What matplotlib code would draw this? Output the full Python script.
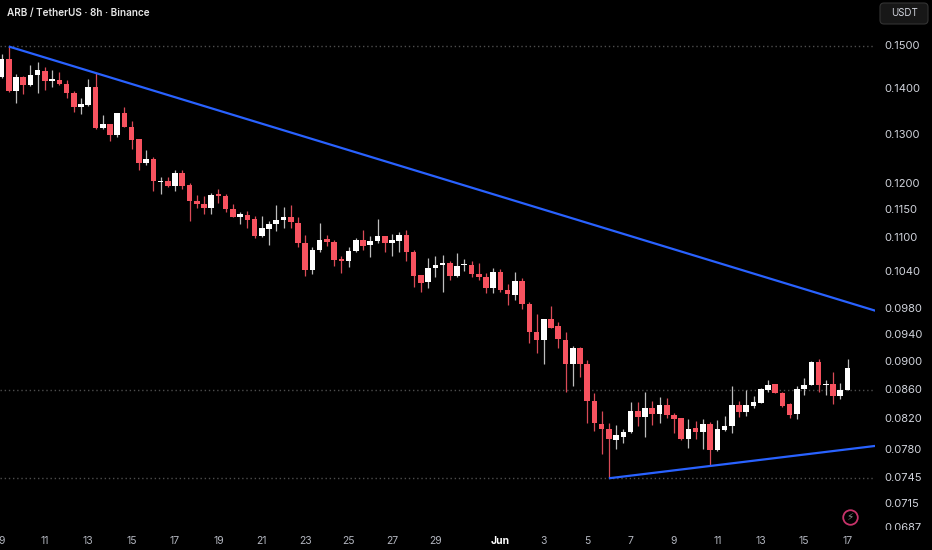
"""ARB / TetherUS 8h candles with two trend lines, dark TradingView look."""
import numpy as np, pandas as pd, matplotlib
matplotlib.use("Agg")
import matplotlib.pyplot as plt
from matplotlib.transforms import blended_transform_factory, IdentityTransform
from matplotlib.patches import FancyBboxPatch
from matplotlib.lines import Line2D

plt.rcParams["font.family"] = ["Inter", "DejaVu Sans"]
BG, TXT, AXT = "#000000", "#d1d4dc", "#b2b5be"
UP, DOWN, UPW, DOWNW = "#ffffff", "#f7525f", "#bdbdbd", "#d94a57"
BLUE, DOT = "#2962ff", "#4d4d4d"

times = pd.date_range("2025-05-09 00:00", periods=118, freq="8h")
opens = [0.1428, 0.1470, 0.1396, 0.1428, 0.1409, 0.1432, 0.1441, 0.1418, 0.1421, 0.1412,
         0.1392, 0.1360, 0.1364, 0.1405, 0.1314, 0.1323, 0.1300, 0.1347, 0.1316, 0.1291,
         0.1242, 0.1250, 0.1204, 0.1206, 0.1196, 0.1222, 0.1198, 0.1168, 0.1162, 0.1155,
         0.1181, 0.1177, 0.1153, 0.1138, 0.1142, 0.1134, 0.1103, 0.1116, 0.1125, 0.1133,
         0.1137, 0.1127, 0.1091, 0.1044, 0.1079, 0.1098, 0.1093, 0.1063, 0.1060, 0.1077,
         0.1096, 0.1087, 0.1095, 0.1103, 0.1091, 0.1095, 0.1105, 0.1075, 0.1036, 0.1024,
         0.1048, 0.1053, 0.1056, 0.1034, 0.1053, 0.1053, 0.1038, 0.1032, 0.1014, 0.1041,
         0.1011, 0.1003, 0.1026, 0.0988, 0.0945, 0.0932, 0.0965, 0.0954, 0.0932, 0.0896,
         0.0920, 0.0897, 0.0845, 0.0814, 0.0807, 0.0793, 0.0797, 0.0803, 0.0831, 0.0823,
         0.0835, 0.0827, 0.0839, 0.0826, 0.0822, 0.0794, 0.0808, 0.0803, 0.0814, 0.0780,
         0.0806, 0.0811, 0.0839, 0.0830, 0.0837, 0.0842, 0.0860, 0.0868, 0.0856, 0.0840,
         0.0827, 0.0861, 0.0867, 0.0900, 0.0867, 0.0868, 0.0851, 0.0860]
highs = [0.1482, 0.1500, 0.1435, 0.1430, 0.1456, 0.1463, 0.1451, 0.1444, 0.1439, 0.1421,
         0.1396, 0.1380, 0.1423, 0.1437, 0.1342, 0.1323, 0.1347, 0.1360, 0.1329, 0.1291,
         0.1268, 0.1254, 0.1214, 0.1214, 0.1228, 0.1228, 0.1202, 0.1179, 0.1177, 0.1183,
         0.1190, 0.1181, 0.1162, 0.1147, 0.1149, 0.1140, 0.1140, 0.1131, 0.1160, 0.1157,
         0.1160, 0.1138, 0.1105, 0.1084, 0.1127, 0.1105, 0.1096, 0.1068, 0.1084, 0.1100,
         0.1114, 0.1103, 0.1134, 0.1103, 0.1107, 0.1111, 0.1114, 0.1079, 0.1036, 0.1065,
         0.1068, 0.1070, 0.1060, 0.1073, 0.1063, 0.1060, 0.1056, 0.1039, 0.1048, 0.1046,
         0.1021, 0.1041, 0.1031, 0.0991, 0.0972, 0.0965, 0.0985, 0.0959, 0.0945, 0.0923,
         0.0922, 0.0903, 0.0856, 0.0831, 0.0815, 0.0812, 0.0807, 0.0843, 0.0843, 0.0857,
         0.0845, 0.0850, 0.0848, 0.0828, 0.0822, 0.0820, 0.0818, 0.0820, 0.0816, 0.0819,
         0.0824, 0.0865, 0.0845, 0.0859, 0.0851, 0.0863, 0.0874, 0.0868, 0.0857, 0.0842,
         0.0865, 0.0877, 0.0901, 0.0904, 0.0873, 0.0885, 0.0870, 0.0904]
lows = [0.1425, 0.1394, 0.1369, 0.1389, 0.1407, 0.1392, 0.1398, 0.1405, 0.1409, 0.1380,
        0.1349, 0.1345, 0.1362, 0.1312, 0.1312, 0.1287, 0.1295, 0.1316, 0.1270, 0.1228,
        0.1238, 0.1187, 0.1181, 0.1194, 0.1187, 0.1190, 0.1131, 0.1155, 0.1143, 0.1143,
        0.1164, 0.1147, 0.1137, 0.1125, 0.1118, 0.1100, 0.1102, 0.1087, 0.1112, 0.1118,
        0.1118, 0.1084, 0.1034, 0.1038, 0.1075, 0.1086, 0.1051, 0.1039, 0.1049, 0.1075,
        0.1079, 0.1066, 0.1091, 0.1075, 0.1068, 0.1075, 0.1060, 0.1016, 0.1008, 0.1014,
        0.1032, 0.1008, 0.1028, 0.1032, 0.1043, 0.1032, 0.1028, 0.1006, 0.1006, 0.1008,
        0.0987, 0.0995, 0.0980, 0.0928, 0.0913, 0.0897, 0.0951, 0.0920, 0.0857, 0.0865,
        0.0878, 0.0815, 0.0804, 0.0775, 0.0745, 0.0781, 0.0789, 0.0802, 0.0811, 0.0797,
        0.0812, 0.0815, 0.0822, 0.0802, 0.0793, 0.0783, 0.0794, 0.0781, 0.0760, 0.0779,
        0.0804, 0.0802, 0.0823, 0.0824, 0.0835, 0.0842, 0.0857, 0.0856, 0.0836, 0.0822,
        0.0820, 0.0853, 0.0867, 0.0857, 0.0853, 0.0840, 0.0847, 0.0860]
closes = [0.1470, 0.1396, 0.1428, 0.1409, 0.1432, 0.1444, 0.1418, 0.1423, 0.1412, 0.1392,
          0.1360, 0.1367, 0.1405, 0.1314, 0.1323, 0.1300, 0.1347, 0.1316, 0.1289, 0.1242,
          0.1250, 0.1206, 0.1206, 0.1196, 0.1222, 0.1196, 0.1168, 0.1162, 0.1155, 0.1179,
          0.1177, 0.1153, 0.1138, 0.1143, 0.1133, 0.1103, 0.1118, 0.1125, 0.1133, 0.1137,
          0.1129, 0.1091, 0.1044, 0.1079, 0.1096, 0.1093, 0.1061, 0.1060, 0.1077, 0.1096,
          0.1086, 0.1095, 0.1103, 0.1091, 0.1096, 0.1105, 0.1075, 0.1034, 0.1023, 0.1048,
          0.1053, 0.1056, 0.1034, 0.1051, 0.1055, 0.1038, 0.1032, 0.1014, 0.1041, 0.1011,
          0.1005, 0.1026, 0.0988, 0.0945, 0.0932, 0.0965, 0.0951, 0.0934, 0.0897, 0.0920,
          0.0897, 0.0845, 0.0815, 0.0807, 0.0794, 0.0799, 0.0803, 0.0831, 0.0823, 0.0835,
          0.0827, 0.0839, 0.0826, 0.0820, 0.0794, 0.0807, 0.0803, 0.0814, 0.0780, 0.0807,
          0.0811, 0.0839, 0.0830, 0.0839, 0.0843, 0.0861, 0.0867, 0.0856, 0.0838, 0.0826,
          0.0861, 0.0867, 0.0900, 0.0867, 0.0868, 0.0851, 0.0860, 0.0891]

# trend lines: two anchor bars and prices each, drawn as rays
upper_bars, upper_prices = [1, 117], [0.1500, 0.0991]
lower_bars, lower_prices = [84, 98], [0.0745, 0.0760]
level_prices = [0.1500, 0.0860, 0.0745]
price_ticks = [0.1500, 0.1400, 0.1300, 0.1200, 0.1150, 0.1100, 0.1040, 0.0980,
               0.0940, 0.0900, 0.0860, 0.0820, 0.0780, 0.0745, 0.0715, 0.0687]
date_ticks = ["2025-05-09", "2025-05-11", "2025-05-13", "2025-05-15", "2025-05-17",
              "2025-05-19", "2025-05-21", "2025-05-23", "2025-05-25", "2025-05-27",
              "2025-05-29", "2025-06-01", "2025-06-03", "2025-06-05", "2025-06-07",
              "2025-06-09", "2025-06-11", "2025-06-13", "2025-06-15", "2025-06-17"]

W, H = 932, 550
fig = plt.figure(figsize=(W / 100, H / 100), dpi=100, facecolor=BG)
rect = [0, (H - 530) / H, 875 / W, 530 / H]
ax = fig.add_axes(rect); ax.set_facecolor(BG)
ax.set_yscale("log")
YLIM = (0.06851, 0.16174)
ax.set_ylim(*YLIM); ax.set_xlim(-0.21, 120.8)
for s in ax.spines.values(): s.set_visible(False)

x = np.arange(len(opens))
o, h, l, c = map(np.array, (opens, highs, lows, closes))
up = c >= o
ax.vlines(x[up], l[up], h[up], color=UPW, lw=0.9, zorder=2)
ax.vlines(x[~up], l[~up], h[~up], color=DOWNW, lw=0.9, zorder=2)
lo, hi = np.minimum(o, c), np.maximum(o, c)
ax.bar(x, hi - lo, bottom=lo, width=0.78, color=np.where(up, UP, DOWN), linewidth=0, zorder=3)

for p in level_prices:
    ax.axhline(p, color=DOT, lw=1, ls=(0, (1, 2)), zorder=1)

def ray(bars, prices, x_end):
    k = (np.log(prices[1]) - np.log(prices[0])) / (bars[1] - bars[0])
    return [bars[0], x_end], [prices[0], prices[0] * np.exp(k * (x_end - bars[0]))]

for bars, prices in ((upper_bars, upper_prices), (lower_bars, lower_prices)):
    xs, ps = ray(bars, prices, 122)
    ax.plot(xs, ps, color=BLUE, lw=1.6, zorder=4, solid_capstyle="butt")

idx = times.get_indexer(pd.to_datetime(date_ticks))
ax.set_xticks(idx)
ax.set_xticklabels(["Jun" if times[i].day == 1 else str(times[i].day) for i in idx])
ax.tick_params(axis="x", length=0, pad=4, colors=AXT, labelsize=7.5)
ax.tick_params(axis="y", which="both", left=False, labelleft=False)
for lbl in ax.get_xticklabels():
    if lbl.get_text() == "Jun":
        lbl.set_color("#ffffff"); lbl.set_fontweight("bold")

# price scale panel
pax = fig.add_axes([875 / W, rect[1], 57 / W, rect[3]])
pax.set_yscale("log"); pax.set_ylim(*YLIM); pax.axis("off")
tr = blended_transform_factory(pax.transAxes, pax.transData)
for p in price_ticks:
    pax.text(9 / 57, p, f"{p:.4f}", transform=tr, ha="left", va="center",
             color=TXT, fontsize=8, clip_on=True)

fig.patches.append(FancyBboxPatch((880, H - 24), 48, 21, boxstyle="round,pad=0,rounding_size=4",
                                  transform=IdentityTransform(), facecolor="#171717",
                                  edgecolor="#333333", lw=0.8))
fig.text(904 / W, 1 - 13.5 / H, "USDT", ha="center", va="center", color=TXT, fontsize=7)
fig.text(7 / W, 1 - 13 / H, "ARB / TetherUS · 8h · Binance", ha="left", va="center",
         color="#e6e6e6", fontsize=7.2, fontweight="semibold")

fig.add_artist(Line2D([850 / W], [1 - 517 / H], transform=fig.transFigure, marker="o", ms=10.5,
                      mfc="none", mec="#c8336a", mew=1.3))
fig.text(850 / W, 1 - 517 / H, "⚡", ha="center", va="center", fontsize=7.5,
         color="#8a8a8a", family=["DejaVu Sans"])

fig.savefig("out.png", dpi=100, facecolor=BG)
print("ok")
